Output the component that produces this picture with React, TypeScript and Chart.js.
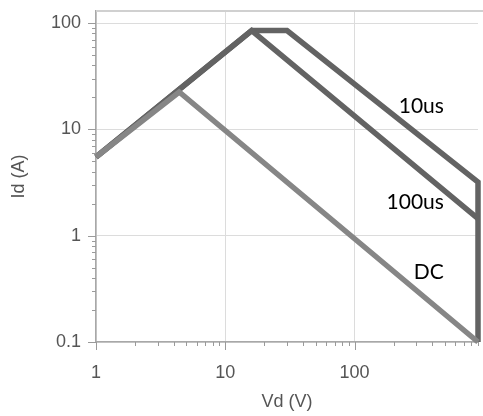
import React, { useEffect, useRef } from "react";
import { Chart, registerables } from "chart.js";

Chart.register(...registerables);

// Safe operating area curves (Vd in V, Id in A)
const us10Vd = [1, 16, 30, 900, 900];
const us10Id = [5.5, 85, 85, 3.2, 0.1];
const us100Vd = [1, 16, 900];
const us100Id = [5.5, 85, 1.45];
const dcVd = [1, 4.4, 900];
const dcId = [5.5, 22.5, 0.1];

const curveNames = ["10us", "100us", "DC"];
const labelVd = [490, 490, 490];
const labelId = [16.6, 2.07, 0.45];

const xTickValues = [1, 2, 3, 4, 5, 6, 7, 8, 9, 10, 20, 30, 40, 50, 60, 70, 80, 90, 100, 200, 300, 400, 500, 600, 700, 800, 900];
const yTickValues = [0.1, 0.2, 0.3, 0.4, 0.5, 0.6, 0.7, 0.8, 0.9, 1, 2, 3, 4, 5, 6, 7, 8, 9, 10, 20, 30, 40, 50, 60, 70, 80, 90, 100];
const majorTicks = [0.1, 1, 10, 100];

const xMin = 1, xMax = 900, yMin = 0.1, yMax = 130;

const isMajor = (v: number) => majorTicks.some((m) => Math.abs(m - v) < 1e-9);

const toPts = (xs: number[], ys: number[]) => xs.map((x, i) => ({ x, y: ys[i] }));

const decorPlugin = {
  id: "decor",
  afterDraw(chart: any) {
    const { ctx, chartArea, scales } = chart;
    const xs = scales.x, ys = scales.y;
    ctx.save();
    // top border
    ctx.strokeStyle = "#d0d0d0";
    ctx.lineWidth = 2;
    ctx.beginPath();
    ctx.moveTo(chartArea.left, chartArea.top);
    ctx.lineTo(483, chartArea.top);
    ctx.stroke();
    // tick marks
    ctx.strokeStyle = "#9a9a9a";
    ctx.lineWidth = 1;
    xs.ticks.forEach((t: any) => {
      const px = Math.round(xs.getPixelForValue(t.value)) + 0.5;
      const len = isMajor(t.value) ? 8 : 4;
      ctx.beginPath();
      ctx.moveTo(px, chartArea.bottom);
      ctx.lineTo(px, chartArea.bottom + len);
      ctx.stroke();
    });
    ys.ticks.forEach((t: any) => {
      const py = Math.round(ys.getPixelForValue(t.value)) + 0.5;
      const len = isMajor(t.value) ? 8 : 4;
      ctx.beginPath();
      ctx.moveTo(chartArea.left, py);
      ctx.lineTo(chartArea.left - len, py);
      ctx.stroke();
    });
    // curve labels
    ctx.fillStyle = "#000";
    ctx.font = "21px Lato";
    ctx.textAlign = "right";
    ctx.textBaseline = "middle";
    curveNames.forEach((n, i) => {
      ctx.fillText(n, xs.getPixelForValue(labelVd[i]), ys.getPixelForValue(labelId[i]));
    });
    ctx.restore();
  },
};

export default function App() {
  const ref = useRef<HTMLCanvasElement>(null);
  useEffect(() => {
    if (!ref.current) return;
    const tickFont = { family: "'Liberation Sans', Arial, sans-serif", size: 18 };
    const lineStyle = { borderWidth: 5.5, pointRadius: 0, clip: false as any, borderJoinStyle: "miter" as any };
    const chart = new Chart(ref.current, {
      type: "line",
      data: {
        datasets: [
          { label: "DC", data: toPts(dcVd, dcId), borderColor: "#868686", ...lineStyle },
          { label: "100us", data: toPts(us100Vd, us100Id), borderColor: "#636363", ...lineStyle },
          { label: "10us", data: toPts(us10Vd, us10Id), borderColor: "#636363", ...lineStyle },
        ],
      },
      options: {
        animation: false,
        responsive: true,
        maintainAspectRatio: false,
        parsing: false as any,
        layout: { padding: { top: 11, right: 5, left: 0, bottom: 0 } },
        plugins: { legend: { display: false }, tooltip: { enabled: false } },
        scales: {
          x: {
            type: "logarithmic",
            min: xMin,
            max: xMax,
            afterBuildTicks: (s: any) => { s.ticks = xTickValues.map((v) => ({ value: v, major: isMajor(v) })); },
            afterFit: (s: any) => { s.height = 74; s.paddingLeft = 0; s.paddingRight = 0; },
            ticks: {
              autoSkip: false,
              maxRotation: 0,
              padding: 20,
              color: "#555",
              font: tickFont,
              callback: (v: any) => (isMajor(Number(v)) ? String(Number(v)) : ""),
            },
            grid: {
              drawTicks: false,
              color: (c: any) => (c.tick && isMajor(c.tick.value) ? "#dcdcdc" : "rgba(0,0,0,0)"),
            },
            border: { color: "#a8a8a8", width: 1.5 },
            title: { display: true, text: "Vd (V)", color: "#555", font: tickFont, padding: { top: 0, bottom: 3 } },
          },
          y: {
            type: "logarithmic",
            min: yMin,
            max: yMax,
            afterBuildTicks: (s: any) => { s.ticks = yTickValues.map((v) => ({ value: v, major: isMajor(v) })); },
            afterFit: (s: any) => { s.width = 96; s.paddingTop = 0; s.paddingBottom = 0; },
            ticks: {
              autoSkip: false,
              padding: 15,
              color: "#555",
              font: tickFont,
              callback: (v: any) => (isMajor(Number(v)) ? String(Number(v)) : ""),
            },
            grid: {
              drawTicks: false,
              color: (c: any) => (c.tick && isMajor(c.tick.value) ? "#dcdcdc" : "rgba(0,0,0,0)"),
            },
            border: { color: "#a8a8a8", width: 1.5 },
            title: { display: true, text: "Id (A)", color: "#555", font: tickFont, padding: { top: 8, bottom: 0 } },
          },
        },
      },
      plugins: [decorPlugin],
    });
    return () => chart.destroy();
  }, []);
  return (
    <div style={{ position: "fixed", left: 0, top: 0, width: 483, height: 416, background: "#fff" }}>
      <canvas ref={ref} />
    </div>
  );
}
